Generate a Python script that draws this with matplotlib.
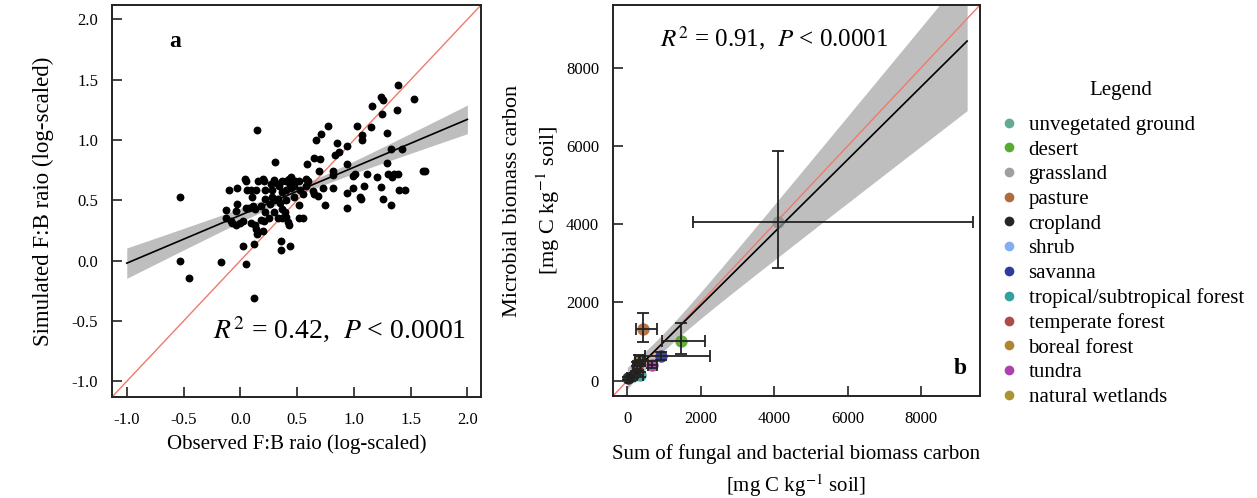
import numpy as np
import matplotlib
matplotlib.use("Agg")
import matplotlib.pyplot as plt
from matplotlib.lines import Line2D

plt.rcParams['font.family'] = ['Liberation Serif', 'DejaVu Serif']
plt.rcParams['mathtext.fontset'] = 'stix'
plt.rcParams['axes.unicode_minus'] = False

# ---------------- Panel a data ----------------
obs_fb = [-0.53, 0.15, 1.39, 1.53, 1.24, 1.26, 1.25, 1.38, 1.16, 0.77, 1.03, 1.15, 0.71, 1.07, 1.07,
          0.67, 0.85, 0.94, 0.87, 0.83, 1.29, 1.33, 1.42, 0.65, 0.70, 0.31, 0.59, 0.94, 1.29, 0.69,
          0.82, 0.82, 1.01, 0.99, 1.12, 1.20, 1.30, 1.35, 1.39, 1.34, 1.61, 1.63, 0.04, 0.05, 0.20,
          0.21, 0.33, 0.37, 0.40, 0.43, 0.45, 0.48, 0.52, 0.58, 0.60, 0.40, 0.37, 0.45, 0.53, 0.58,
          0.64, 0.65, 0.68, 0.73, 0.75, 0.82, 0.94, 0.99, 1.05, 1.06, 1.09, 0.94, 1.24, 1.26, 1.33,
          1.40, 1.45, -0.10, -0.03, 0.06, 0.09, 0.14, 0.22, 0.28, 0.10, -0.03, -0.13, -0.04, 0.05,
          0.11, 0.22, 0.28, 0.30, 0.33, 0.52, 0.22, 0.30, 0.39, -0.13, -0.07, -0.04, 0.02, 0.09,
          0.13, 0.14, 0.15, 0.20, 0.21, 0.18, 0.25, 0.33, 0.37, 0.40, 0.42, 0.43, 0.52, 0.55, 0.02,
          0.12, 0.36, 0.36, 0.44, -0.17, 0.05, -0.53, -0.45, 0.12, 0.08, 0.13, 0.37, 0.16, 0.27,
          0.30, 0.34, 0.44, 0.47, -0.08, 0.00, 0.18, 0.26, 0.35, 0.40, 0.47, 0.55]
sim_fb = [0.53, 1.08, 1.46, 1.34, 1.36, 1.33, 1.22, 1.25, 1.28, 1.12, 1.12, 1.11, 1.05, 1.04, 1.00,
          1.00, 0.98, 0.95, 0.90, 0.88, 1.06, 0.93, 0.93, 0.85, 0.84, 0.82, 0.80, 0.80, 0.81, 0.74,
          0.74, 0.71, 0.72, 0.70, 0.72, 0.69, 0.72, 0.72, 0.72, 0.69, 0.74, 0.74, 0.68, 0.66, 0.68,
          0.66, 0.64, 0.66, 0.66, 0.68, 0.69, 0.66, 0.66, 0.68, 0.66, 0.59, 0.57, 0.60, 0.59, 0.62,
          0.58, 0.55, 0.54, 0.60, 0.46, 0.60, 0.56, 0.60, 0.53, 0.51, 0.62, 0.44, 0.61, 0.51, 0.46,
          0.59, 0.59, 0.59, 0.60, 0.59, 0.59, 0.59, 0.59, 0.59, 0.53, 0.47, 0.42, 0.41, 0.44,
          0.45, 0.51, 0.53, 0.50, 0.51, 0.46, 0.40, 0.40, 0.40, 0.35, 0.31, 0.30, 0.33, 0.31,
          0.30, 0.26, 0.22, 0.25, 0.33, 0.34, 0.35, 0.35, 0.35, 0.36, 0.32, 0.30, 0.35, 0.35, 0.12,
          0.14, 0.16, 0.09, 0.12, -0.01, -0.03, 0.00, -0.14, -0.31, 0.44, 0.43, 0.43, 0.66, 0.64,
          0.67, 0.62, 0.63, 0.62, 0.33, 0.31, 0.45, 0.47, 0.48, 0.50, 0.53, 0.55]
tick_a = [-1.0, -0.5, 0.0, 0.5, 1.0, 1.5, 2.0]

# ---------------- Panel b data ----------------
biomes = ['unvegetated ground', 'desert', 'grassland', 'pasture', 'cropland', 'shrub', 'savanna',
          'tropical/subtropical forest', 'temperate forest', 'boreal forest', 'tundra', 'natural wetlands']
biome_colors = ['#4a9a80', '#3d9a0e', '#8c9090', '#a0521c', '#000000', '#6ea0f0', '#0a1a8a',
                '#109090', '#a02a2a', '#a07010', '#a020a0', '#9a8010']
sum_fb = [150, 1463, 4100, 437, 30, 260, 917, 344, 254, 344, 682, 330]
sum_fb_lo = [90, 936, 1782, 226, 0, 180, 480, 250, 150, 220, 560, 220]
sum_fb_hi = [210, 2117, 9421, 800, 70, 340, 2254, 440, 360, 470, 800, 440]
mbc = [120, 1020, 4050, 1325, 60, 300, 630, 154, 367, 495, 410, 540]
mbc_lo = [70, 692, 2872, 982, 20, 220, 530, 90, 260, 380, 330, 420]
mbc_hi = [170, 1479, 5872, 1736, 100, 380, 730, 220, 470, 640, 500, 660]
tick_b = [0, 2000, 4000, 6000, 8000]

W, H = 1257, 498
fig = plt.figure(figsize=(W / 100, H / 100), dpi=100)

def box(l, t, r, b):
    return [l / W, 1 - b / H, (r - l) / W, (b - t) / H]

def style(ax):
    for s in ax.spines.values():
        s.set_linewidth(1.4)
        s.set_color('#222222')
    ax.tick_params(direction='in', length=7, width=1.2, labelsize=12, color='#222222')
    ax.tick_params(axis='x', pad=11)
    ax.tick_params(axis='y', pad=10)

def ols_band(x, y, xs):
    x = np.asarray(x, float); y = np.asarray(y, float)
    n = len(x)
    b, a = np.polyfit(x, y, 1)
    res = y - (a + b * x)
    s = np.sqrt(np.sum(res ** 2) / (n - 2))
    sxx = np.sum((x - x.mean()) ** 2)
    tval = 1.97 if n > 60 else 2.23
    se = s * np.sqrt(1.0 / n + (xs - x.mean()) ** 2 / sxx)
    yh = a + b * xs
    return yh, yh - tval * se, yh + tval * se

# ---------- panel a ----------
axa = fig.add_axes(box(112, 5, 481, 397))
lim_a = (-1.13, 2.12)
xs = np.linspace(-1.0, 2.0, 100)
yh, lo, hi = ols_band(obs_fb, sim_fb, xs)
axa.fill_between(xs, lo, hi, color='#bebebe', lw=0, zorder=1)
axa.plot(lim_a, lim_a, color='#f07a6a', lw=1.0, zorder=2)
axa.scatter(obs_fb, sim_fb, s=32, color='black', zorder=3, lw=0)
axa.plot(xs, yh, color='black', lw=1.2, zorder=4)
axa.set_xlim(lim_a); axa.set_ylim(lim_a)
axa.set_xticks(tick_a); axa.set_yticks(tick_a)
axa.set_xticklabels([f'{v:.1f}' for v in tick_a])
axa.set_yticklabels([f'{v:.1f}' for v in tick_a])
style(axa)
axa.set_xlabel('Observed F:B raio (log-scaled)', fontsize=15, labelpad=4)
axa.set_ylabel('Simulated F:B raio (log-scaled)', fontsize=16.5, labelpad=13)
axa.text(0.171, 0.906, 'a', transform=axa.transAxes, fontsize=17, fontweight='bold', ha='center', va='center')
axa.text(0.96, 0.17, r'$R^2$ = 0.42,  $P$ < 0.0001', transform=axa.transAxes, fontsize=20,
         ha='right', va='center')

# ---------- panel b ----------
axb = fig.add_axes(box(613, 5, 980, 396))
lim_b = (-390, 9600)
xs_b = np.linspace(0, 9250, 200)
yh_b, lo_b, hi_b = ols_band(sum_fb, mbc, xs_b)
axb.fill_between(xs_b, lo_b, hi_b, color='#bebebe', lw=0, zorder=1)
axb.plot(lim_b, lim_b, color='#f07a6a', lw=1.0, zorder=2)
axb.plot(xs_b, yh_b, color='black', lw=1.2, zorder=3)
for i, name in enumerate(biomes):
    axb.errorbar(sum_fb[i], mbc[i],
                 xerr=[[sum_fb[i] - sum_fb_lo[i]], [sum_fb_hi[i] - sum_fb[i]]],
                 yerr=[[mbc[i] - mbc_lo[i]], [mbc_hi[i] - mbc[i]]],
                 fmt='none', ecolor='#222222', elinewidth=1.3, capsize=4, capthick=1.3, zorder=5)
    axb.scatter(sum_fb[i], mbc[i], s=80, color=biome_colors[i], alpha=0.8, lw=0, zorder=4, label=name)
axb.set_xlim(lim_b); axb.set_ylim(lim_b)
axb.set_xticks(tick_b); axb.set_yticks(tick_b)
style(axb)
axb.set_xlabel('Sum of fungal and bacterial biomass carbon\n[mg C kg$^{-1}$ soil]', fontsize=15,
               labelpad=12, linespacing=1.42)
axb.set_ylabel('Microbial biomass carbon\n[mg C kg$^{-1}$ soil]', fontsize=16, labelpad=3,
               linespacing=1.6)
axb.text(0.945, 0.07, 'b', transform=axb.transAxes, fontsize=17, fontweight='bold', ha='center', va='center')
axb.text(0.44, 0.915, r'$R^2$ = 0.91,  $P$ < 0.0001', transform=axb.transAxes, fontsize=18,
         ha='center', va='center')

fig.text(1121 / W, 1 - 90 / H, 'Legend', fontsize=15, ha='center', va='center')
handles = [Line2D([], [], marker='o', ls='none', markersize=7, markerfacecolor=c, markeredgewidth=0,
                  alpha=0.85) for c in biome_colors]
leg = fig.legend(handles, biomes, loc='upper left', bbox_to_anchor=(991 / W, 1 - 107 / H),
                 frameon=False, fontsize=15, handletextpad=0.5, labelspacing=0.245,
                 borderaxespad=0, handlelength=0.9)

fig.savefig('out.png', dpi=100)
